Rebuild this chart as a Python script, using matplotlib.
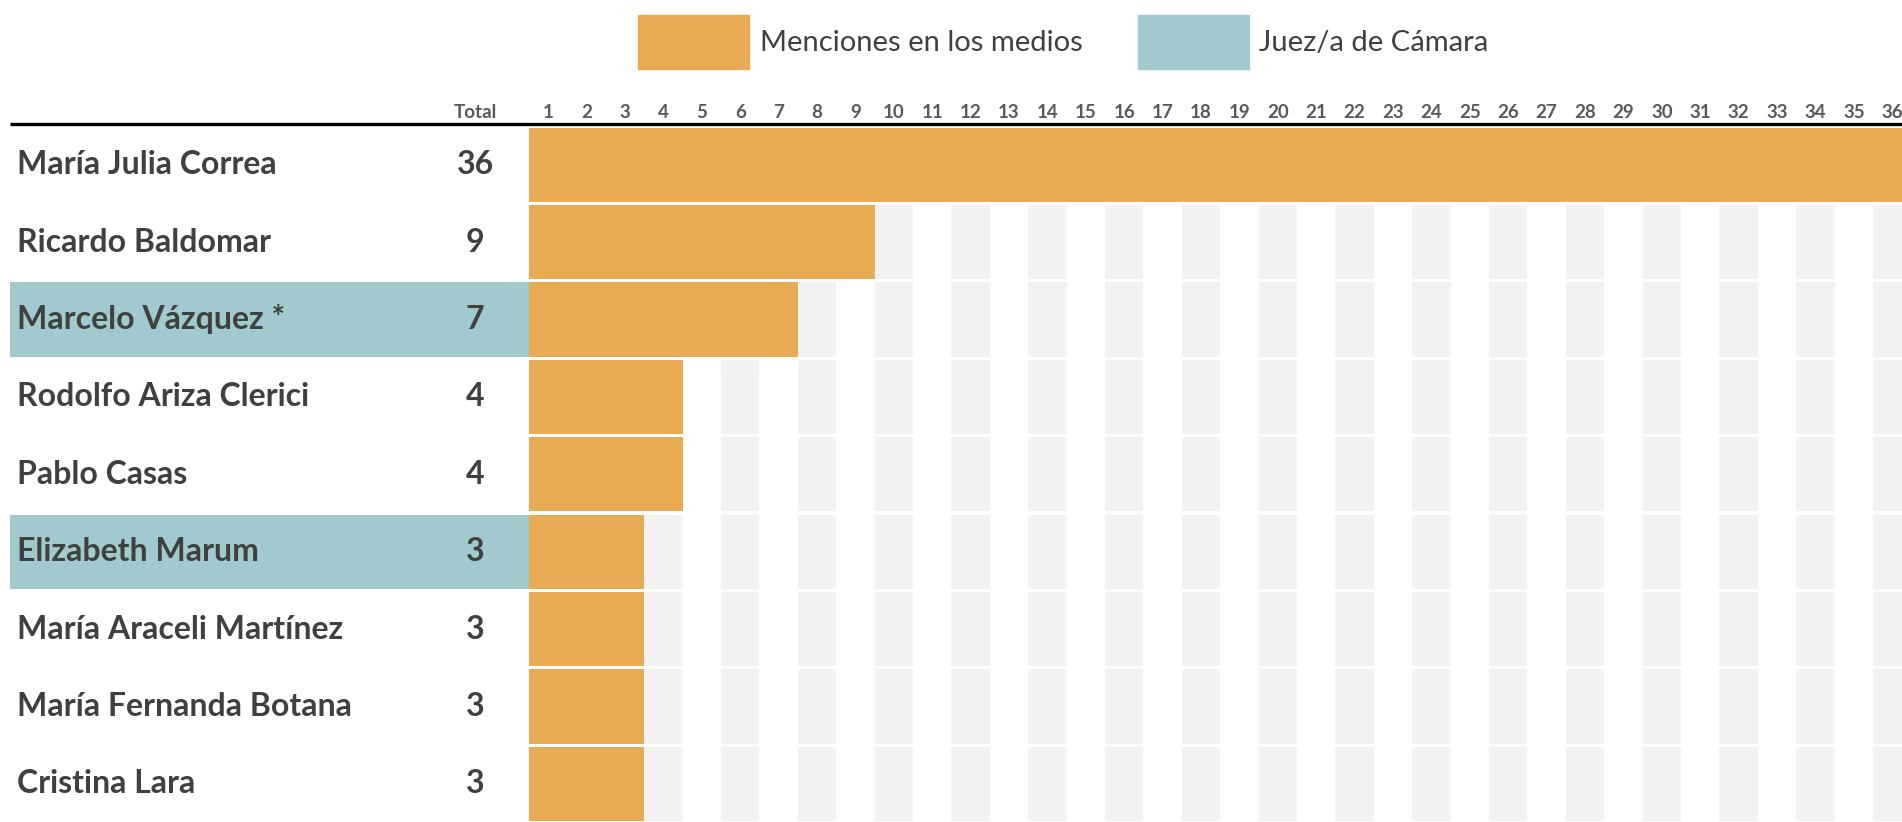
import matplotlib.pyplot as plt
from matplotlib.patches import Patch

# --- data ---
names = ["María Julia Correa", "Ricardo Baldomar", "Marcelo Vázquez *",
         "Rodolfo Ariza Clerici", "Pablo Casas", "Elizabeth Marum",
         "María Araceli Martínez", "María Fernanda Botana", "Cristina Lara"]
menciones = [36, 9, 7, 4, 4, 3, 3, 3, 3]
es_camara = [False, False, True, False, False, True, False, False, False]
columnas = list(range(1, 37))

ORANGE = "#E8AB53"
TEAL = "#A0CACE"
GREY = "#F2F2F2"
TXT = "#404040"

plt.rcParams['font.family'] = ['Lato', 'DejaVu Sans']

# pixel layout helpers (1902x822 at dpi 100)
W, H = 1902, 822
unit_x = 38.4           # px per column
unit_y = 77.4           # px per row
x_start = 529           # where column 1 begins
y_start = 126           # where row 1 begins

fig = plt.figure(figsize=(W / 100, H / 100), dpi=100)
ax = fig.add_axes([0, 0, 1, 1])
ax.set_xlim(-x_start / unit_x, (W - x_start) / unit_x)
ax.set_ylim((H - y_start) / unit_y, -y_start / unit_y)
ax.axis("off")

h = 0.96
left_edge = (10 - x_start) / unit_x

for i, (name, val, cam) in enumerate(zip(names, menciones, es_camara)):
    y = i + 0.5
    # grey background on even columns
    for c in columnas:
        if c % 2 == 0 and c > val:
            ax.barh(y, 1, left=c - 1, height=h, color=GREY, linewidth=0)
    ax.barh(y, val, left=0, height=h, color=ORANGE, linewidth=0)
    if cam:
        ax.barh(y, -left_edge, left=left_edge, height=h, color=TEAL, linewidth=0)
    ax.text((17 - x_start) / unit_x, y, name, ha="left", va="center",
            fontsize=23, fontweight="bold", color=TXT)
    ax.text((475 - x_start) / unit_x, y, str(val), ha="center", va="center",
            fontsize=23, fontweight="bold", color=TXT)

# header
y_head = -(y_start - 112) / unit_y
for c in columnas:
    ax.text(c - 0.5, y_head, str(c), ha="center", va="center",
            fontsize=13.5, fontweight="bold", color="#595959")
ax.text((475 - x_start) / unit_x, y_head, "Total", ha="center", va="center",
        fontsize=13.5, fontweight="bold", color="#595959")
ax.plot([left_edge, 40], [-0.03] * 2, color="black", lw=2.4,
        solid_capstyle="butt")

handles = [Patch(color=ORANGE, label="Menciones en los medios"),
           Patch(color=TEAL, label="Juez/a de Cámara")]
fig.legend(handles=handles, loc="center", bbox_to_anchor=(0.559, 0.949), ncol=2,
           frameon=False, fontsize=21, handlelength=3.8, handleheight=2.5,
           handletextpad=0.35, columnspacing=1.9, labelcolor=TXT)

fig.savefig("out.png", dpi=100)
